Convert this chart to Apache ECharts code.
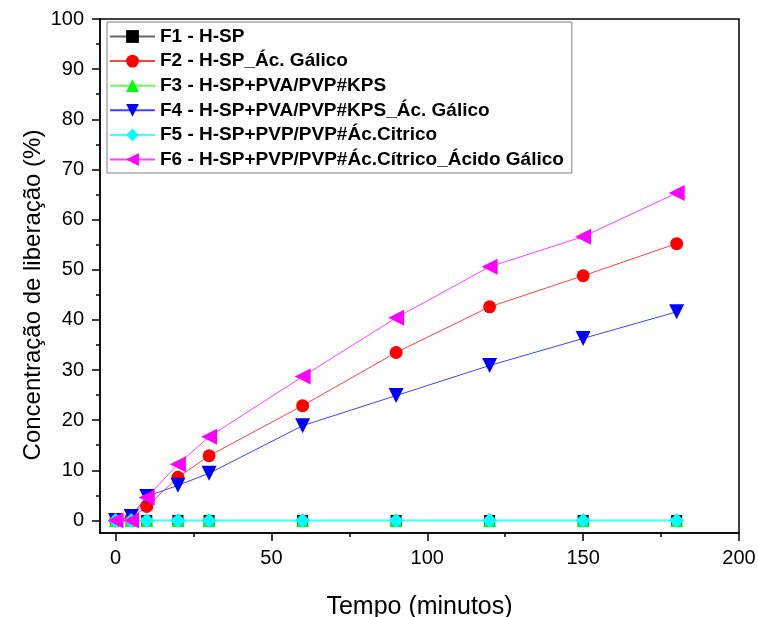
<!DOCTYPE html>
<html>
<head>
<meta charset="utf-8">
<script src="https://cdn.jsdelivr.net/npm/echarts@6/dist/echarts.min.js"></script>
<style>html,body{margin:0;padding:0;background:#fff}#c{width:758px;height:617px}</style>
</head>
<body>
<div id="c"></div>
<script>
var times = [0, 5, 10, 20, 30, 60, 90, 120, 150, 180];
var f1 = [0, 0, 0, 0, 0, 0, 0, 0, 0, 0];
var f2 = [0, 0.4, 2.8, 8.6, 12.9, 22.9, 33.5, 42.6, 48.8, 55.2];
var f3 = [0, 0, 0, 0, 0, 0, 0, 0, 0, 0];
var f4 = [0, 0.8, 4.8, 7.0, 9.4, 18.9, 24.9, 30.9, 36.3, 41.6];
var f5 = [0, 0, 0, 0, 0, 0, 0, 0, 0, 0];
var f6 = [0, 0, 4.6, 11.2, 16.7, 28.7, 40.4, 50.6, 56.6, 65.3];
var names = ['F1 - H-SP', 'F2 - H-SP_Ác. Gálico', 'F3 - H-SP+PVA/PVP#KPS',
  'F4 - H-SP+PVA/PVP#KPS_Ác. Gálico', 'F5 - H-SP+PVP/PVP#Ác.Citrico',
  'F6 - H-SP+PVP/PVP#Ác.Cítrico_Ácido Gálico'];
var xTicks = [0, 50, 100, 150, 200];
var xMinor = [25, 75, 125, 175];
var yTicks = [0, 10, 20, 30, 40, 50, 60, 70, 80, 90, 100];
var yMinor = [5, 15, 25, 35, 45, 55, 65, 75, 85, 95];

function pairs(v) { return times.map(function (t, i) { return [t, v[i]]; }); }

var FONT = 'Liberation Sans, Arial, sans-serif';
var chart = echarts.init(document.getElementById('c'));
function mk(name, data, color, lineColor, symbol, size, rot, lw) {
  return {
    name: name, type: 'line', data: pairs(data), symbol: symbol, symbolSize: size,
    symbolRotate: rot || 0,
    itemStyle: { color: color },
    lineStyle: { color: lineColor, width: lw || 1 },
    emphasis: { disabled: true }, animation: false
  };
}
chart.setOption({
  animation: false,
  grid: { left: 100, right: 19, top: 19, bottom: 84, show: true, borderColor: '#000', borderWidth: 1.5,
    containLabel: false, outerBoundsMode: 'none' },
  legend: {
    left: 107, top: 22, orient: 'vertical',
    backgroundColor: '#fff', borderColor: '#808080', borderWidth: 1,
    padding: [5, 8, 4, 2],
    itemWidth: 45, itemHeight: 16, itemGap: 5.6,
    textStyle: { fontFamily: FONT, fontWeight: 'bold', fontSize: 19, lineHeight: 19, color: '#000' },
    data: names
  },
  xAxis: [{
    type: 'value', min: -5, max: 200,
    axisLine: { show: true, onZero: false, lineStyle: { color: '#000', width: 1.5 } },
    axisTick: { show: true, customValues: xTicks, length: 8, inside: false, lineStyle: { color: '#000', width: 1.5 } },
    axisLabel: { customValues: xTicks, fontFamily: FONT, fontSize: 20, color: '#000', margin: 15 },
    splitLine: { show: false },
    name: 'Tempo (minutos)', nameLocation: 'middle', nameGap: 62,
    nameTextStyle: { fontFamily: FONT, fontSize: 25, color: '#000' }
  }, {
    type: 'value', min: -5, max: 200, position: 'bottom',
    axisLine: { show: false, onZero: false },
    axisTick: { show: true, customValues: xMinor, length: 4, lineStyle: { color: '#000', width: 1.5 } },
    axisLabel: { show: false, customValues: xMinor },
    splitLine: { show: false }
  }],
  yAxis: [{
    type: 'value', min: -2.5, max: 100,
    axisLine: { show: true, onZero: false, lineStyle: { color: '#000', width: 1.5 } },
    axisTick: { show: true, customValues: yTicks, length: 8, lineStyle: { color: '#000', width: 1.5 } },
    axisLabel: { customValues: yTicks, fontFamily: FONT, fontSize: 20, color: '#000', margin: 16 },
    splitLine: { show: false }
  }, {
    type: 'value', min: -2.5, max: 100, position: 'left',
    axisLine: { show: false, onZero: false },
    axisTick: { show: true, customValues: yMinor, length: 4, lineStyle: { color: '#000', width: 1.5 } },
    axisLabel: { show: false, customValues: yMinor },
    splitLine: { show: false }
  }],
  graphic: [{
    type: 'text', x: 33, y: 295, rotation: Math.PI / 2,
    style: { text: 'Concentração de liberação (%)', fontFamily: FONT, fontSize: 24, fill: '#000',
      align: 'center', verticalAlign: 'middle' }
  }],
  series: [
    mk(names[0], f1, '#000', '#666', 'rect', 11, 0, 1),
    mk(names[1], f2, '#ff0000', '#ff4040', 'circle', 13, 0, 1),
    mk(names[2], f3, '#00ff00', '#60ff60', 'triangle', 13, 0, 1),
    mk(names[3], f4, '#0000ff', '#4040ff', 'triangle', 15, 180, 1),
    mk(names[4], f5, '#00ffff', '#40ffff', 'diamond', 15, 0, 2),
    mk(names[5], f6, '#ff00ff', '#ff40ff', 'triangle', 16, 90, 1)
  ]
});
</script>
</body>
</html>
